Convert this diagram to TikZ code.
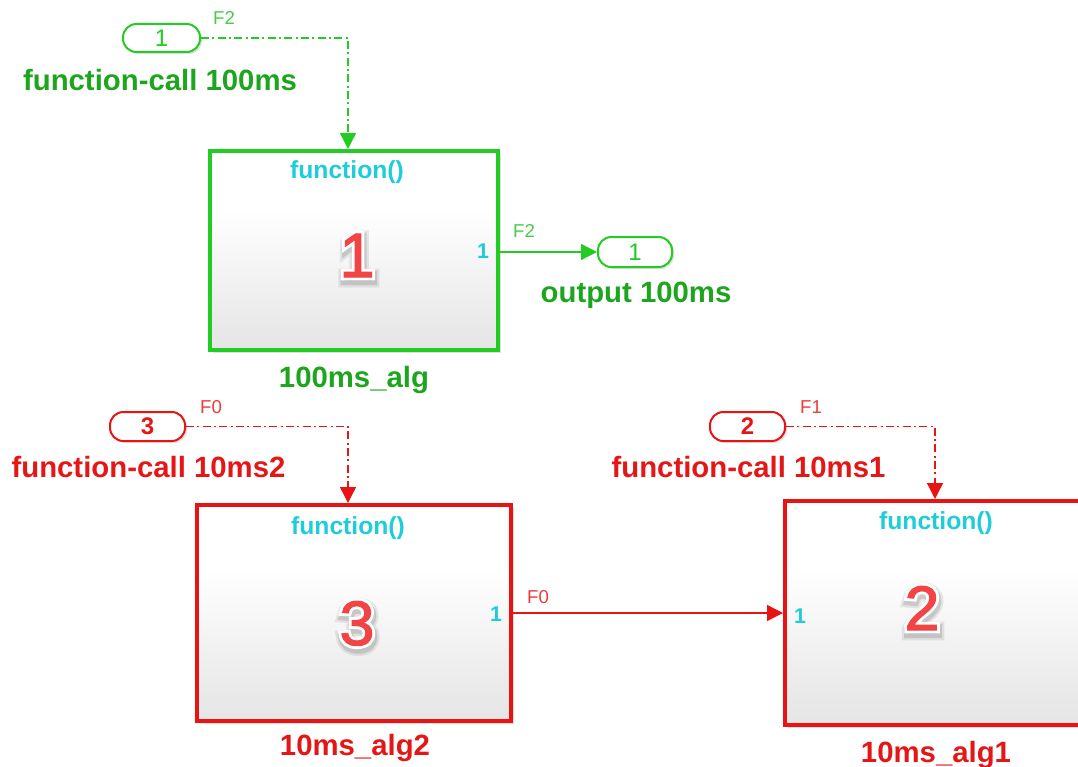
\documentclass[tikz,border=0pt]{standalone}
\usepackage{fontspec}
\setmainfont{Liberation Sans}
\newfontfamily\halofont[FakeBold=11]{Liberation Sans}
\newfontfamily\shadfonta[FakeBold=22]{Liberation Sans}
\newfontfamily\shadfontb[FakeBold=15]{Liberation Sans}
\newfontfamily\numfont[FakeBold=2]{Liberation Sans}
\usetikzlibrary{arrows.meta,shadows,calc}
\definecolor{gline}{RGB}{34,204,34}
\definecolor{gtext}{RGB}{30,165,30}
\definecolor{glabel}{RGB}{70,205,70}
\definecolor{rline}{RGB}{232,20,20}
\definecolor{rtext}{RGB}{228,22,22}
\definecolor{rlabel}{RGB}{235,60,60}
\definecolor{cyanp}{RGB}{30,205,215}
\definecolor{numred}{RGB}{242,68,68}
\pgfdeclareverticalshading{blkshade}{100bp}{color(0bp)=(black!15); color(30bp)=(black!9); color(60bp)=(white); color(100bp)=(white)}
\newcommand\halonum[4]{%
  \node[bignum, text=black, opacity=0.08] (#1sa) at ([xshift=0.8pt,yshift=-2.5pt]#2,#3) {\shadfonta #4};
  \node[bignum, text=black, opacity=0.12] (#1sb) at ([xshift=0.8pt,yshift=-2.5pt]#2,#3) {\shadfontb #4};
  \node[bignum, text=white] (#1h) at (#2,#3) {\halofont #4};
  \node[bignum, text=numred] (#1) at (#2,#3) {\numfont #4};
}
\begin{document}
\begin{tikzpicture}[x=0.75pt,y=-0.75pt,
  blk/.style={draw, line width=3pt, inner sep=0pt, shading=blkshade,
    drop shadow={shadow xshift=2pt, shadow yshift=-2pt, opacity=0.25}},
  pill/.style={draw, line width=1.5pt, rounded corners=10pt, inner sep=0pt, fill=white,
    drop shadow={shadow xshift=1.5pt, shadow yshift=-1.5pt, opacity=0.25}},
  fcall/.style={line width=1pt, dash pattern=on 6pt off 2.5pt on 1.5pt off 2.5pt,
    -{Triangle[length=12pt,width=12pt]}},
  sig/.style={line width=1pt, -{Triangle[length=12pt,width=12pt]}},
  lbl/.style={anchor=base, inner sep=0pt, font=\fontsize{22pt}{26pt}\selectfont\bfseries},
  flbl/.style={anchor=base, inner sep=0pt, font=\fontsize{14pt}{16pt}\selectfont},
  fun/.style={anchor=base, inner sep=0pt, text=cyanp, font=\fontsize{18.5pt}{21pt}\selectfont\bfseries},
  port/.style={anchor=base, inner sep=0pt, text=cyanp, font=\fontsize{16pt}{18pt}\selectfont\bfseries},
  bignum/.style={anchor=base, inner sep=0pt, font=\fontsize{47pt}{50pt}\selectfont},
  pnum/.style={font=\fontsize{18pt}{20pt}\selectfont}
]
\useasboundingbox (0,0) rectangle (1078,767);
\clip (0,0) rectangle (1078,767);

% blocks
\node[blk, draw=gline, minimum width=216pt, minimum height=149.25pt] (alg100) at (354,250.5) {};
\node[blk, draw=rline, minimum width=235.5pt, minimum height=162pt] (alg2) at (354,613) {};
\node[blk, draw=rline, minimum width=225pt, minimum height=168pt] (alg1) at (935,613) {};

% ports (pills)
\node[pill, draw=gline, text=gline, pnum, minimum width=57.75pt, minimum height=21pt] (in1) at (161.5,38) {1};
\node[pill, draw=gline, text=gline, pnum, minimum width=55.5pt, minimum height=22.5pt] (out1) at (635,252) {1};
\node[pill, draw=rline, text=rtext, font=\fontsize{18pt}{20pt}\selectfont\bfseries, minimum width=56.25pt, minimum height=21.75pt] (in3) at (147.5,426.5) {3};
\node[pill, draw=rline, text=rtext, font=\fontsize{18pt}{20pt}\selectfont\bfseries, minimum width=56.25pt, minimum height=21.75pt] (in2) at (747.5,426.5) {2};

% connectors
\draw[fcall, gline] (in1.east) -| ([xshift=-4.5pt]alg100.north);
\draw[fcall, rline] (in3.east) -| ([xshift=-4.5pt]alg2.north);
\draw[fcall, rline] (in2.east) -| (alg1.north);
\draw[sig, gline] (alg100.east |- out1.west) -- (out1.west);
\draw[sig, rline] (alg2.east) -- (alg1.west);

% signal labels
\node[flbl, text=glabel] (f2a) at (224,25) {F2};
\node[flbl, text=glabel] (f2b) at (524,237) {F2};
\node[flbl, text=rlabel] (f0a) at (211,413) {F0};
\node[flbl, text=rlabel] (f1a) at (811,413) {F1};
\node[flbl, text=rlabel] (f0b) at (538,603) {F0};

% port names
\node[lbl, text=gtext] (lin1) at (160,90) {function-call 100ms};
\node[lbl, text=gtext] (lout1) at (636,302) {output 100ms};
\node[lbl, text=rtext] (lin3) at (148.5,477) {function-call 10ms2};
\node[lbl, text=rtext] (lin2) at (748.5,477) {function-call 10ms1};

% block names
\node[lbl, text=gtext] (n100) at (354,387) {100ms\_alg};
\node[lbl, text=rtext] (n2) at (355,755) {10ms\_alg2};
\node[lbl, text=rtext] (n1) at (936,762) {10ms\_alg1};

% inside blocks
\node[fun] (fun100) at (347,178) {function()};
\node[fun] (fun2) at (348,534) {function()};
\node[fun] (fun1) at (936,529) {function()};
\node[port] (p100) at (483,258) {1};
\node[port] (p2) at (496,621) {1};
\node[port] (p1) at (800,623) {1};

\halonum{b100}{357}{277}{1}
\halonum{b2}{357}{645}{3}
\halonum{b1}{922}{630}{2}
\end{tikzpicture}
\end{document}
